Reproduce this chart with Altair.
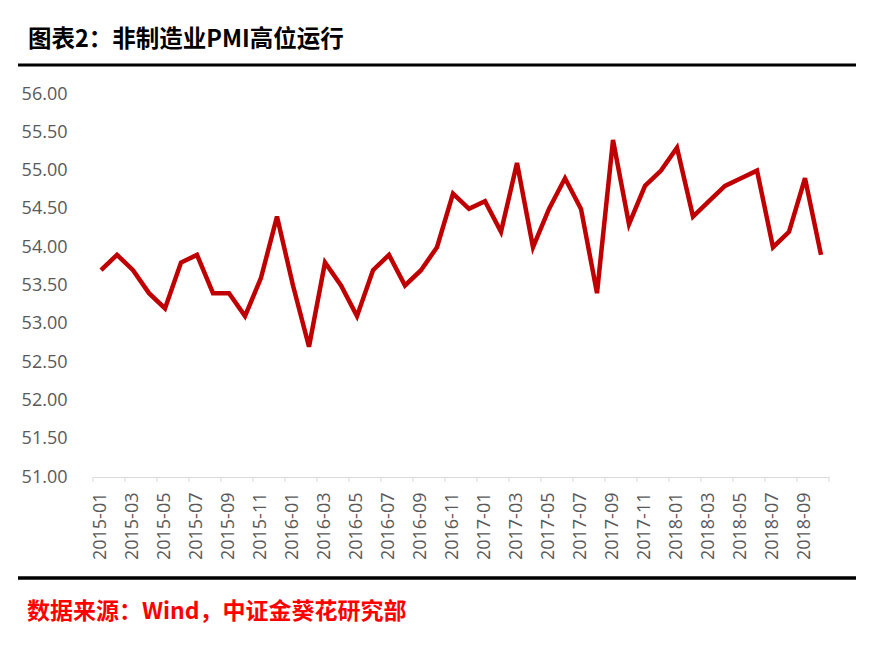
import altair as alt
import pandas as pd

months = [f"{y}-{m:02d}" for y in (2015, 2016, 2017, 2018) for m in range(1, 13)][:46]
pmi = [53.7, 53.9, 53.7, 53.4, 53.2, 53.8, 53.9, 53.4, 53.4, 53.1, 53.6, 54.4,
       53.5, 52.7, 53.8, 53.5, 53.1, 53.7, 53.9, 53.5, 53.7, 54.0, 54.7, 54.5,
       54.6, 54.2, 55.1, 54.0, 54.5, 54.9, 54.5, 53.4, 55.4, 54.3, 54.8, 55.0,
       55.3, 54.4, 54.6, 54.8, 54.9, 55.0, 54.0, 54.2, 54.9, 53.9]
y_ticks = [51.0, 51.5, 52.0, 52.5, 53.0, 53.5, 54.0, 54.5, 55.0, 55.5, 56.0]
label_months = months[::2]
title_text = "图表2：非制造业PMI高位运行"
source_text = "数据来源：Wind，中证金葵花研究部"

W, H = 736, 383
df = pd.DataFrame({"month": months, "pmi": pmi})
tick_df = pd.DataFrame({"month": label_months})

x_enc = alt.X("month:O", sort=months,
              scale=alt.Scale(paddingInner=0, paddingOuter=0),
              axis=alt.Axis(title=None, values=label_months, labelAngle=-90,
                            labelFont="Open Sans", labelFontSize=18, labelColor="#595959",
                            labelPadding=15, ticks=False, domainColor="#D9D9D9",
                            domainWidth=1, labelOverlap=False, grid=False))

line = alt.Chart(df).mark_line(color="#C00000", strokeWidth=4.5, strokeJoin="miter").encode(
    x=x_enc,
    y=alt.Y("pmi:Q", scale=alt.Scale(domain=[51, 56], nice=False, zero=False),
            axis=alt.Axis(title=None, values=y_ticks, format=".2f", labelFont="Open Sans",
                          labelFontSize=18, labelColor="#595959", ticks=False,
                          domain=False, grid=False, labelPadding=26)),
)

ticks = alt.Chart(tick_df).mark_rule(color="#D9D9D9", strokeWidth=1).encode(
    x=alt.X("month:O", sort=months, bandPosition=0),
    y=alt.value(H), y2=alt.value(H + 5),
)
end_tick = alt.Chart(tick_df.head(1)).mark_rule(color="#D9D9D9", strokeWidth=1).encode(
    x=alt.value(W), y=alt.value(H), y2=alt.value(H + 5),
)

title = alt.Chart(pd.DataFrame({"t": [title_text]})).mark_text(
    align="left", baseline="middle", font="Noto Sans CJK SC", fontSize=23.5,
    fontWeight="bold", color="#000000").encode(
    text="t:N", x=alt.value(-65), y=alt.value(-54))

top_rule = alt.Chart(pd.DataFrame({"t": [0]})).mark_rule(color="#000000", strokeWidth=3).encode(
    x=alt.value(-75), x2=alt.value(763), y=alt.value(-29))
bottom_rule = alt.Chart(pd.DataFrame({"t": [0]})).mark_rule(color="#000000", strokeWidth=3.5).encode(
    x=alt.value(-75), x2=alt.value(763), y=alt.value(484))

source = alt.Chart(pd.DataFrame({"t": [source_text]})).mark_text(
    align="left", baseline="middle", font="Noto Sans CJK SC", fontSize=23,
    fontWeight="bold", color="#FF0000").encode(
    text="t:N", x=alt.value(-66), y=alt.value(518))

chart = alt.layer(line, ticks, end_tick, title, top_rule, bottom_rule, source).properties(
    width=W, height=H,
    autosize=alt.AutoSizeParams(type="none"),
    padding={"left": 85, "top": 86, "right": 33, "bottom": 166},
).configure(background="white").configure_view(stroke=None)

chart.save("out.html", embed_options={"renderer": "svg", "actions": False})
